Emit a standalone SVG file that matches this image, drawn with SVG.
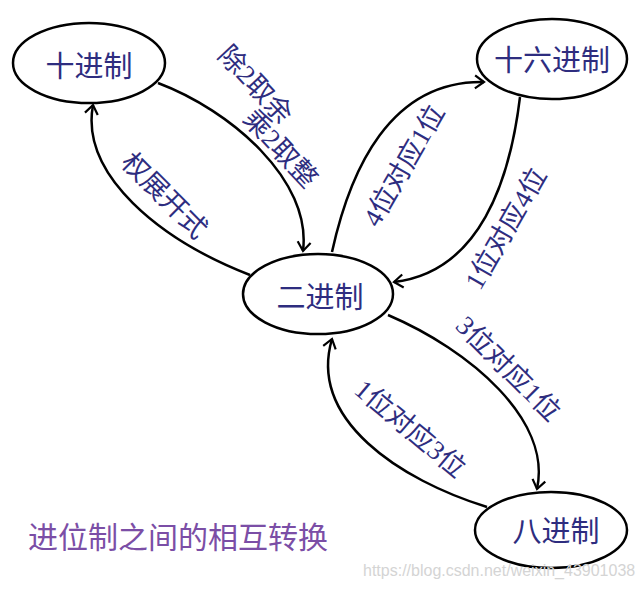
<svg xmlns="http://www.w3.org/2000/svg" width="643" height="589" viewBox="0 0 643 589">
<defs>
<style>
.node ellipse{fill:#fff;stroke:#000;stroke-width:2.5}
.node text{font-family:"Noto Sans CJK SC","Liberation Serif",serif;font-size:29px;fill:#2e2d7f;text-anchor:middle}
.edge{fill:none;stroke:#000;stroke-width:2.5;marker-end:url(#arr)}
.lbl{font-family:"Liberation Serif","Noto Sans CJK SC",serif;font-size:27px;fill:#2e2d7f;text-anchor:middle}
.title{font-family:"Noto Sans CJK SC",sans-serif;font-size:30px;fill:#7b4ea6}
.wm{font-family:"Liberation Sans",Arial,sans-serif;font-size:16px;fill:#d4d4d4}
</style>
<marker id="arr" markerUnits="userSpaceOnUse" markerWidth="16" markerHeight="16" refX="12" refY="8" orient="auto">
<path d="M3,1.5 L12,8 L3,14.5" fill="none" stroke="#000" stroke-width="2.2"/>
</marker>
</defs>
<rect width="643" height="589" fill="#fff"/>
<g id="connectors">
<path class="edge" d="M158,83 C230,110 312,180 303,251"/>
<path class="edge" d="M250,275 C160,240 80,175 93,105"/>
<path class="edge" d="M332,252 C350,170 390,80 484,82"/>
<path class="edge" d="M520,97 C510,180 480,272 394,282"/>
<path class="edge" d="M388,315 C470,350 552,420 537,489"/>
<path class="edge" d="M487,507 C400,480 308,420 332,339"/>
</g>
<g id="labels">
<text class="lbl" transform="rotate(47 256 84)" x="256" y="94">除2取余</text>
<text class="lbl" transform="rotate(47 281 148)" x="281" y="158">乘2取整</text>
<text class="lbl" transform="rotate(45 165 195)" x="165" y="205">权展开式</text>
<text class="lbl" transform="rotate(-60 403 165)" x="403" y="175">4位对应1位</text>
<text class="lbl" transform="rotate(-60 505 228)" x="505" y="238">1位对应4位</text>
<text class="lbl" transform="rotate(45 509 368)" x="509" y="378">3位对应1位</text>
<text class="lbl" transform="rotate(40 411 428)" x="411" y="438">1位对应3位</text>
</g>
<g id="n-dec" class="node"><ellipse cx="89" cy="63" rx="76" ry="40"/><text x="89" y="77">十进制</text></g>
<g id="n-hex" class="node"><ellipse cx="552" cy="59" rx="75" ry="40"/><text x="552" y="71">十六进制</text></g>
<g id="n-bin" class="node"><ellipse cx="318" cy="294" rx="75" ry="40"/><text x="320" y="308">二进制</text></g>
<g id="n-oct" class="node"><ellipse cx="551" cy="530" rx="76" ry="38"/><text x="556" y="542">八进制</text></g>
<text class="title" x="28" y="548">进位制之间的相互转换</text>
<text class="wm" x="363" y="576">https://blog.csdn.net/weixin_43901038</text>
</svg>
